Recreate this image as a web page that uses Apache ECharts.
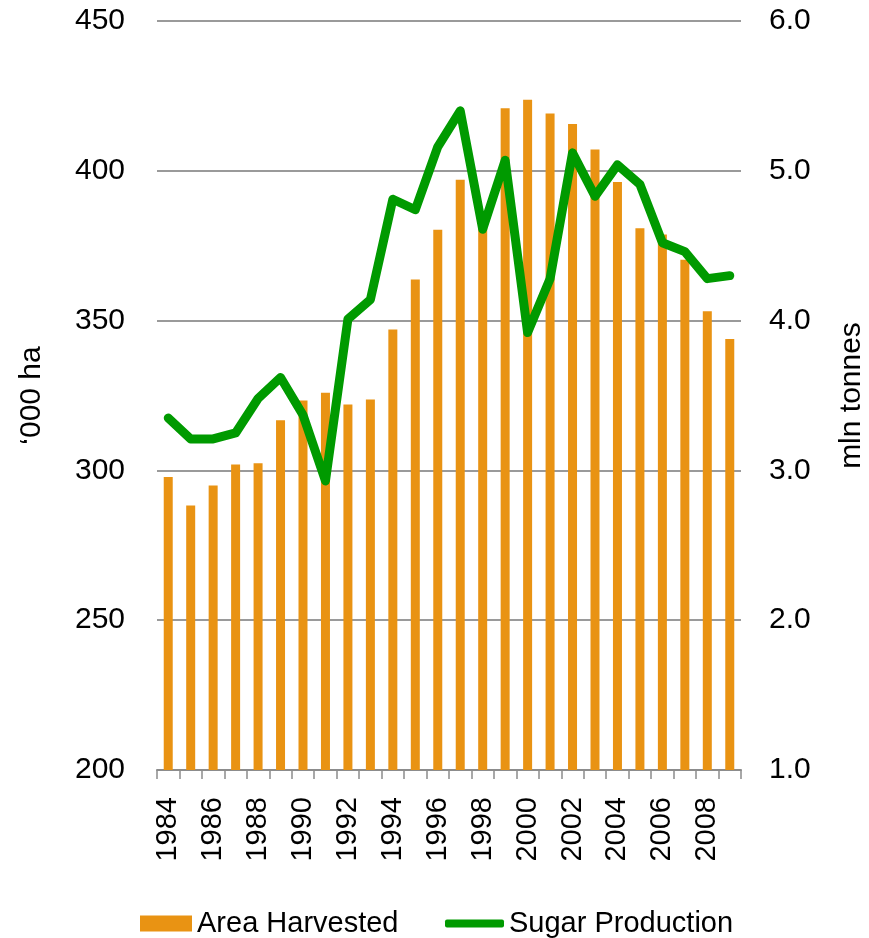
<!DOCTYPE html>
<html>
<head>
<meta charset="utf-8">
<script src="https://cdn.jsdelivr.net/npm/echarts@6/dist/echarts.min.js"></script>
<style>html,body{margin:0;padding:0;background:#fff}#c{width:869px;height:938px}</style>
</head>
<body>
<div id="c"></div>
<script>
const years = ['1984','1985','1986','1987','1988','1989','1990','1991','1992','1993','1994','1995','1996','1997','1998','1999','2000','2001','2002','2003','2004','2005','2006','2007','2008','2009'];
const areaHarvested = [297.8,288.3,295,302,302.4,316.7,323.3,325.9,322,323.7,347,363.7,380.3,397,381,420.9,423.7,419.1,415.6,407.1,396.3,380.8,378.7,370.3,353.1,343.9];
const sugarProduction = [3.35,3.21,3.21,3.25,3.48,3.62,3.37,2.93,4.01,4.14,4.81,4.74,5.16,5.40,4.61,5.07,3.92,4.28,5.12,4.83,5.04,4.91,4.52,4.46,4.28,4.30];
const leftName = '\u2018000 ha';
const rightName = 'mln tonnes';

const font = 'Liberation Sans, Arial, sans-serif';
const barColor = '#E99313';
const lineColor = '#009a00';

const chart = echarts.init(document.getElementById('c'), null, {renderer:'canvas'});
chart.setOption({
  animation:false,
  backgroundColor:'#fff',
  grid:{left:157,right:128,top:21,bottom:168,containLabel:false,outerBoundsMode:'none'},
  legend:[{
    left:140, top:909, padding:0,
    itemWidth:52, itemHeight:16, itemGap:0,
    textStyle:{fontFamily:font,fontSize:29,color:'#000'},
    data:[{name:'Area Harvested',icon:'rect'}]
  },{
    left:445, top:909, padding:0,
    itemWidth:59, itemHeight:8, itemGap:0,
    textStyle:{fontFamily:font,fontSize:29,color:'#000'},
    data:[{name:'Sugar Production',icon:'roundRect',itemStyle:{color:lineColor}}]
  }],
  xAxis:{
    type:'category', data:years, boundaryGap:true,
    axisLine:{show:true,lineStyle:{color:'#8c8c8c',width:2}},
    axisTick:{show:true,interval:0,length:9,lineStyle:{color:'#8c8c8c',width:1.5}},
    axisLabel:{interval:1,rotate:90,margin:27,fontFamily:font,fontSize:29,color:'#000'},
    splitLine:{show:false}
  },
  yAxis:[{
    type:'value', min:200, max:450, interval:50,
    name:leftName, nameLocation:'middle', nameRotate:90, nameGap:110,
    nameTextStyle:{fontFamily:font,fontSize:30,color:'#000'},
    axisLine:{show:false}, axisTick:{show:false},
    axisLabel:{margin:32,fontFamily:font,fontSize:30,color:'#000'},
    splitLine:{show:true,lineStyle:{color:'#9a9a9a',width:2}}
  },{
    type:'value', min:1, max:6, interval:1, position:'right',
    name:rightName, nameLocation:'middle', nameRotate:90, nameGap:96,
    nameTextStyle:{fontFamily:font,fontSize:30,color:'#000'},
    axisLine:{show:false}, axisTick:{show:false},
    axisLabel:{margin:28,fontFamily:font,fontSize:30,color:'#000',formatter:v=>v.toFixed(1)},
    splitLine:{show:false}
  }],
  series:[{
    name:'Area Harvested', type:'bar', yAxisIndex:0, data:areaHarvested,
    barWidth:9, itemStyle:{color:barColor}
  },{
    name:'Sugar Production', type:'line', yAxisIndex:1, data:sugarProduction,
    symbol:'none', showSymbol:false,
    lineStyle:{color:lineColor,width:9,cap:'round',join:'round'},
    itemStyle:{color:lineColor}
  }]
});
</script>
</body>
</html>
